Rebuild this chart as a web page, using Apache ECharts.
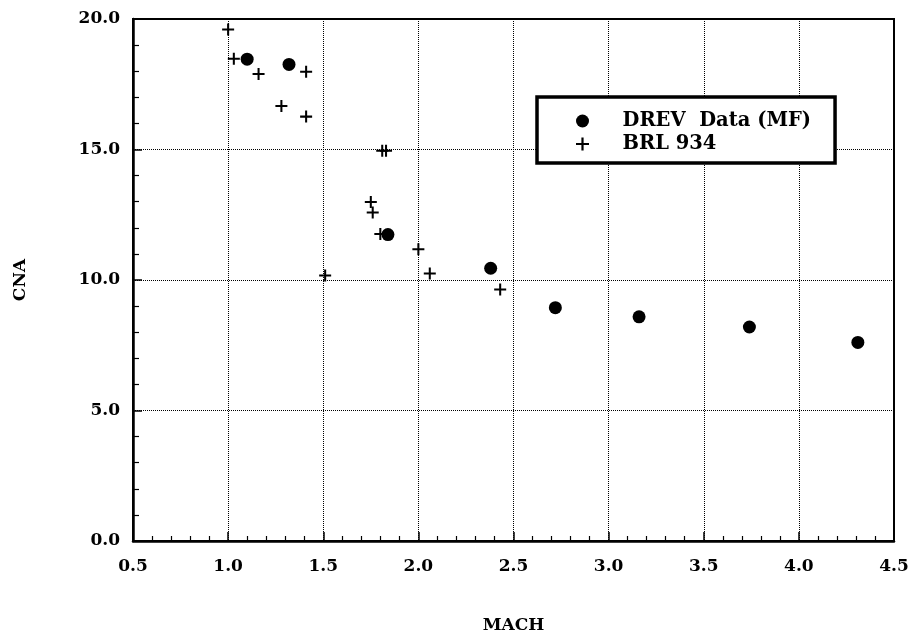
<!DOCTYPE html>
<html>
<head>
<meta charset="utf-8">
<script src="https://cdn.jsdelivr.net/npm/echarts@6/dist/echarts.min.js"></script>
<style>
  html, body { margin: 0; padding: 0; background: #fff; }
  #chart { width: 914px; height: 639px; }
</style>
</head>
<body>
<div id="chart"></div>
<script>
// Normal-force slope CNA versus Mach number
const drevMach = [1.10, 1.32, 1.84, 2.38, 2.72, 3.16, 3.74, 4.31];
const drevCNA  = [18.46, 18.26, 11.74, 10.45, 8.94, 8.59, 8.20, 7.61];

const brlMach = [1.00, 1.03, 1.16, 1.28, 1.41, 1.41, 1.81, 1.83, 1.75, 1.76, 1.80, 1.51, 2.00, 2.06, 2.43];
const brlCNA  = [19.60, 18.48, 17.89, 16.67, 17.98, 16.26, 14.95, 14.95, 12.99, 12.59, 11.76, 10.17, 11.18, 10.25, 9.64];

const seriesNames = ['DREV  Data (MF)', 'BRL 934'];
const xTitle = 'MACH';
const yTitle = 'CNA';

const pairs = (xs, ys) => xs.map((x, i) => [x, ys[i]]);

// thin plus sign drawn as a filled outline
const plusPath = 'path://M0,4.15H4.15V0H5.85V4.15H10V5.85H5.85V10H4.15V5.85H0Z';

const font = 'DejaVu Serif';
const labelStyle = { fontFamily: font, fontWeight: 'bold', fontSize: 17, color: '#000' };

const chart = echarts.init(document.getElementById('chart'), null, { renderer: 'canvas' });
chart.setOption({
  animation: false,
  backgroundColor: '#fff',
  grid: {
    left: 133, right: 20, top: 19, bottom: 98,
    show: true, borderColor: '#000', borderWidth: 2, backgroundColor: 'transparent'
  },
  legend: {
    left: 537, top: 97,
    orient: 'vertical',
    data: seriesNames,
    itemWidth: 70, itemHeight: 13, itemGap: 3,
    padding: [14, 24, 9, 39],
    borderColor: '#000', borderWidth: 3.5, backgroundColor: '#fff',
    textStyle: { fontFamily: font, fontWeight: 'bold', fontSize: 19.5, color: '#000' },
    selectedMode: false
  },
  xAxis: {
    type: 'value', min: 0.5, max: 4.5, interval: 0.5,
    name: xTitle, nameLocation: 'middle', nameGap: 76,
    nameTextStyle: { fontFamily: font, fontWeight: 'bold', fontSize: 17, color: '#000' },
    axisLine: { show: true, onZero: false, lineStyle: { color: '#000', width: 2.5 } },
    axisTick: { show: true, inside: true, length: 9, lineStyle: { color: '#000', width: 1.5 } },
    minorTick: { show: true, splitNumber: 5, length: 5, lineStyle: { color: '#000', width: 1.2 } },
    axisLabel: Object.assign({ margin: 17, formatter: v => v.toFixed(1) }, labelStyle),
    splitLine: { show: true, lineStyle: { color: '#000', type: [1, 1], width: 1 } }
  },
  yAxis: {
    type: 'value', min: 0, max: 20, interval: 5,
    name: yTitle, nameLocation: 'middle', nameGap: 104, nameRotate: 90,
    nameTextStyle: { fontFamily: font, fontWeight: 'bold', fontSize: 17, color: '#000' },
    axisLine: { show: true, onZero: false, lineStyle: { color: '#000', width: 2.5 } },
    axisTick: { show: true, inside: true, length: 9, lineStyle: { color: '#000', width: 1.5 } },
    minorTick: { show: true, splitNumber: 5, length: 6, lineStyle: { color: '#000', width: 1.2 } },
    axisLabel: Object.assign({ margin: 13, formatter: v => v.toFixed(1) }, labelStyle),
    splitLine: { show: true, lineStyle: { color: '#000', type: [1, 1], width: 1 } }
  },
  series: [
    {
      name: seriesNames[0], type: 'scatter',
      data: pairs(drevMach, drevCNA),
      symbol: 'circle', symbolSize: 13,
      itemStyle: { color: '#000', opacity: 1 }
    },
    {
      name: seriesNames[1], type: 'scatter',
      data: pairs(brlMach, brlCNA),
      symbol: plusPath, symbolSize: 12,
      itemStyle: { color: '#000', opacity: 1 }
    }
  ]
});
</script>
</body>
</html>
